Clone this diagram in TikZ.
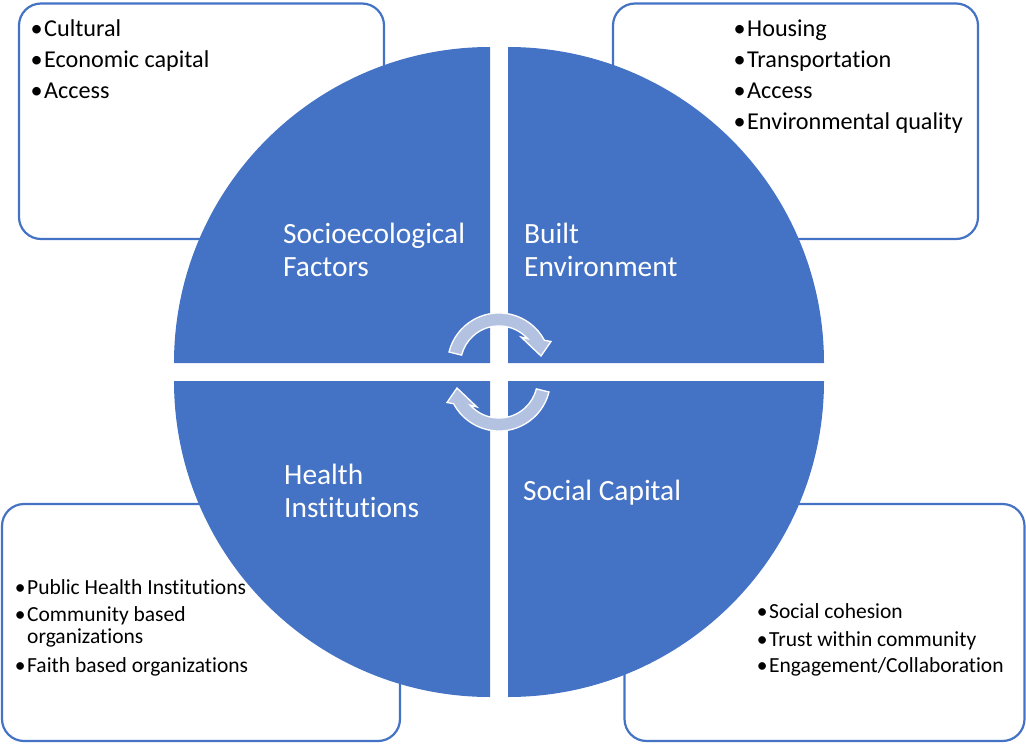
\documentclass[tikz,border=0pt]{standalone}
\usepackage{fontspec}
\setmainfont{Carlito}[Ligatures=NoCommon]
\definecolor{qblue}{HTML}{4472C4}
\definecolor{arrowfill}{RGB}{180,194,226}
\newcommand{\bul}{\llap{\textbullet\kern1.5pt}}
\begin{document}
\begin{tikzpicture}[x=1pt,y=-1pt,
  box/.style={draw=qblue, line width=2.2pt, fill=white, rounded corners=22pt, inner sep=0pt},
  quad/.style={fill=qblue},
  cyclearrow/.style={fill=arrowfill, draw=white, line width=1.3pt, line join=miter},
  item/.style={anchor=base west, inner sep=0pt, font=\fontsize{24.2}{31}\selectfont},
  smallitem/.style={anchor=base west, inner sep=0pt, font=\fontsize{21.5}{25}\selectfont},
  qlabel/.style={anchor=base west, inner sep=0pt, text=white, font=\fontsize{29.4}{33}\selectfont}]
\useasboundingbox (0,0) rectangle (1026,744);
% text boxes
\node[box, minimum width=365pt, minimum height=235.5pt] (tlbox) at (201.5,121.25) {};
\node[box, minimum width=365pt, minimum height=235.5pt] (trbox) at (795.5,121.25) {};
\node[box, minimum width=398pt, minimum height=237pt] (blbox) at (201,622.5) {};
\node[box, minimum width=400pt, minimum height=237pt] (brbox) at (824.5,622.5) {};
% quadrants
\fill[quad] (490,363) -- ++(-316,0) arc[start angle=180, end angle=270, radius=316] -- cycle;
\fill[quad] (508,363) -- ++(0,-316) arc[start angle=270, end angle=360, radius=316] -- cycle;
\fill[quad] (508,381) -- ++(316,0) arc[start angle=0, end angle=90, radius=316] -- cycle;
\fill[quad] (490,381) -- ++(0,316) arc[start angle=90, end angle=180, radius=316] -- cycle;
% cycle arrows
\draw[cyclearrow] (449.0,352.0) arc[start angle=194, end angle=332, radius=51.5]
  -- (551,341.5) -- (541,356) -- (521,337) -- (527.6,338.7)
  arc[start angle=318, end angle=194, radius=38.5] -- cycle;
\begin{scope}[rotate around={180:(499,372)}]
\draw[cyclearrow] (449.0,352.0) arc[start angle=194, end angle=332, radius=51.5]
  -- (551,341.5) -- (541,356) -- (521,337) -- (527.6,338.7)
  arc[start angle=318, end angle=194, radius=38.5] -- cycle;
\end{scope}
% quadrant labels
\node[qlabel] (q1a) at (283,243) {Socioecological};
\node[qlabel] (q1b) at (283,276) {Factors};
\node[qlabel] (q2a) at (524,243) {Built};
\node[qlabel] (q2b) at (524,276) {Environment};
\node[qlabel] (q3a) at (284,484) {Health};
\node[qlabel] (q3b) at (284,517) {Institutions};
\node[qlabel] (q4a) at (523,500) {Social Capital};
% top-left list
\node[item] (tl1) at (44,36) {\bul Cultural};
\node[item] (tl2) at (44,67) {\bul Economic capital};
\node[item] (tl3) at (44,98) {\bul Access};
% top-right list
\node[item] (tr1) at (747,36) {\bul Housing};
\node[item] (tr2) at (747,67) {\bul Transportation};
\node[item] (tr3) at (747,98) {\bul Access};
\node[item] (tr4) at (747,129) {\bul Environmental quality};
% bottom-left list
\node[smallitem] (bl1) at (27,594) {\bul Public Health Institutions};
\node[smallitem] (bl2) at (27,621) {\bul Community based};
\node[smallitem] (bl3) at (27,643) {organizations};
\node[smallitem] (bl4) at (27,672) {\bul Faith based organizations};
% bottom-right list
\node[smallitem] (br1) at (769,618) {\bul Social cohesion};
\node[smallitem] (br2) at (769,646) {\bul Trust within community};
\node[smallitem] (br3) at (769,672) {\bul Engagement/Collaboration};
\end{tikzpicture}
\end{document}
